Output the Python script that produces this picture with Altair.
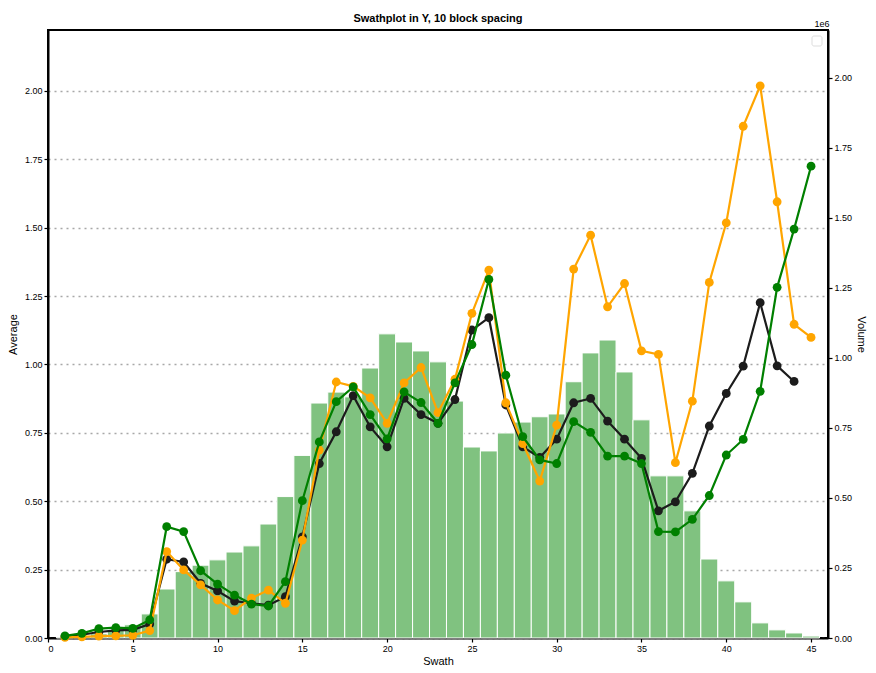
import altair as alt
import pandas as pd

# ---- data ----
SWATH = list(range(1, 46))

# bar volume, in units of 1e6
VOLUME_M = [0.003, 0.008, 0.015, 0.028, 0.047, 0.086, 0.175, 0.237, 0.26, 0.279,
            0.307, 0.329, 0.407, 0.505, 0.652, 0.839, 0.878, 0.861, 0.964, 1.086,
            1.057, 1.025, 0.986, 0.846, 0.682, 0.668, 0.732, 0.771, 0.79, 0.80,
            0.915, 1.018, 1.064, 0.95, 0.779, 0.579, 0.579, 0.454, 0.282, 0.204,
            0.129, 0.054, 0.029, 0.018, 0.007]

BLACK = [0.005, 0.012, 0.022, 0.028, 0.03, 0.051, 0.288, 0.278, 0.20, 0.172,
         0.135, 0.127, 0.12, 0.151, 0.37, 0.638, 0.754, 0.886, 0.772, 0.699,
         0.876, 0.817, 0.785, 0.872, 1.126, 1.171, 0.852, 0.699, 0.66, 0.727,
         0.86, 0.876, 0.793, 0.727, 0.657, 0.465, 0.498, 0.602, 0.775, 0.894,
         0.994, 1.226, 0.995, 0.938]

ORANGE = [0.002, 0.004, 0.007, 0.008, 0.01, 0.027, 0.316, 0.249, 0.194, 0.139,
          0.10, 0.146, 0.175, 0.127, 0.358, 0.687, 0.936, 0.92, 0.878, 0.785,
          0.933, 0.989, 0.824, 0.946, 1.187, 1.345, 0.86, 0.711, 0.574, 0.778,
          1.349, 1.473, 1.211, 1.296, 1.05, 1.037, 0.641, 0.866, 1.30, 1.518,
          1.871, 2.019, 1.595, 1.147, 1.099]

GREEN = [0.008, 0.017, 0.034, 0.038, 0.035, 0.066, 0.407, 0.389, 0.246, 0.197,
         0.157, 0.124, 0.117, 0.206, 0.502, 0.717, 0.864, 0.918, 0.817, 0.728,
         0.90, 0.861, 0.785, 0.933, 1.073, 1.311, 0.961, 0.736, 0.651, 0.638,
         0.791, 0.752, 0.665, 0.665, 0.638, 0.389, 0.388, 0.434, 0.521, 0.669,
         0.726, 0.902, 1.282, 1.495, 1.725]

SERIES = [("black", BLACK, "#1c1c1c"), ("orange", ORANGE, "#ffa500"), ("green", GREEN, "#008000")]

X_TICKS = [0, 5, 10, 15, 20, 25, 30, 35, 40, 45]
Y_TICKS = [0, 0.25, 0.5, 0.75, 1.0, 1.25, 1.5, 1.75, 2.0]
V_TICKS = [0, 0.25, 0.5, 0.75, 1.0, 1.25, 1.5, 1.75, 2.0]

W, H = 780, 608
FONT = "Liberation Sans"

bars_df = pd.DataFrame({"swath": SWATH, "volume": VOLUME_M})

xscale = alt.Scale(domain=[0, 46], nice=False, zero=False)
xaxis = alt.Axis(values=X_TICKS, title="Swath", grid=False, format="d",
                 titlePadding=2)

bars = alt.Chart(bars_df).mark_rect(color="#80c280", stroke="white", strokeWidth=1).transform_calculate(
    x0="datum.swath - 0.5", x1="datum.swath + 0.5"
).encode(
    x=alt.X("x0:Q", scale=xscale, axis=xaxis),
    x2="x1:Q",
    y=alt.Y("volume:Q", scale=alt.Scale(domain=[0, 2.171], nice=False),
            axis=alt.Axis(orient="right", values=V_TICKS, format=".2f", title="Volume",
                          grid=False, titlePadding=4)),
    y2=alt.datum(0),
)

line_layers = []
for name, vals, col in SERIES:
    df = pd.DataFrame({"swath": SWATH[:len(vals)], "avg": vals})
    base = alt.Chart(df).encode(
        x=alt.X("swath:Q", scale=xscale, axis=xaxis),
        y=alt.Y("avg:Q", scale=alt.Scale(domain=[0, 2.223], nice=False),
                axis=alt.Axis(orient="left", values=Y_TICKS, format=".2f", title="Average",
                              grid=True, gridDash=[2, 4], gridColor="#a8a8a8", gridWidth=1.6,
                              titlePadding=6)),
    )
    line_layers.append(base.mark_line(color=col, strokeWidth=2.2))
    line_layers.append(base.mark_circle(color=col, size=78, opacity=1))

one = pd.DataFrame({"a": [0]})
legend_box = alt.Chart(one).mark_rect(fill="white", stroke="#dddddd", strokeWidth=1,
                                      cornerRadius=2).encode(
    x=alt.value(W - 16), x2=alt.value(W - 6), y=alt.value(6), y2=alt.value(16))
exp_text = alt.Chart(one).mark_text(text="1e6", fontSize=9, font=FONT, align="center",
                                    baseline="alphabetic", color="black").encode(
    x=alt.value(W - 6), y=alt.value(-3))

lines = alt.layer(*line_layers, legend_box, exp_text)

chart = alt.layer(bars, lines).resolve_scale(y="independent").properties(
    width=W, height=H,
    title=alt.TitleParams("Swathplot in Y, 10 block spacing", fontSize=11, fontWeight="bold",
                          font=FONT, color="black", offset=6, frame="group", dy=10),
    autosize=alt.AutoSizeParams(type="none"),
    padding={"left": 40, "top": 22, "right": 40, "bottom": 27},
).configure_view(
    stroke="black", strokeWidth=2
).configure_axis(
    domainColor="black", domainWidth=2, tickColor="black", tickWidth=1.2, tickSize=4,
    labelFont=FONT, labelFontSize=9, labelColor="black", labelPadding=2,
    titleFont=FONT, titleFontSize=11, titleFontWeight="normal", titleColor="black",
)

chart.save("out.html", embed_options={"renderer": "svg", "actions": False})
